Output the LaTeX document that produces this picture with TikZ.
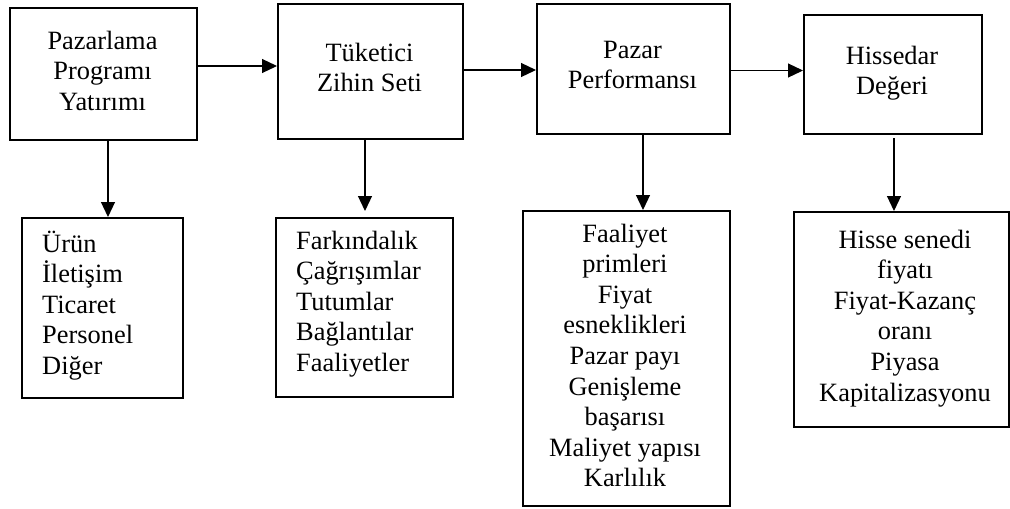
\documentclass[tikz,border=0pt]{standalone}
\usepackage{fontspec}
\setmainfont{Liberation Serif}
\usetikzlibrary{arrows.meta}
\begin{document}
\begin{tikzpicture}[x=1pt,y=-1pt,
  box/.style={draw=black, line width=2.4pt, inner sep=0pt, anchor=north west},
  txt/.style={inner sep=0pt, font=\fontsize{26.4}{30.6}\selectfont, execute at begin node=\strut},
  ctxt/.style={txt, align=center, anchor=north},
  ltxt/.style={txt, align=left, anchor=north west},
  arr/.style={line width=1.2pt, -{Triangle[length=15pt,width=14pt]}}]
\useasboundingbox (0,0) rectangle (1010,509);

% top boxes
\node[box, minimum width=187pt, minimum height=132pt] (A) at (9,7) {};
\node[box, minimum width=185pt, minimum height=135pt] (B) at (277,3) {};
\node[box, minimum width=193pt, minimum height=130pt] (C) at (536,3) {};
\node[box, minimum width=178pt, minimum height=119pt] (D) at (803,14) {};

% bottom boxes
\node[box, minimum width=161pt, minimum height=180pt] (E) at (21,217) {};
\node[box, minimum width=177pt, minimum height=179pt] (F) at (275,217) {};
\node[box, minimum width=207pt, minimum height=295pt] (G) at (522,210) {};
\node[box, minimum width=215pt, minimum height=215pt] (H) at (793,211) {};

% texts
\node[ctxt] (tA) at (102.5,30.58) {Pazarlama\\Programı\\Yatırımı};
\node[ctxt] (tB) at (369.5,42.58) {Tüketici\\Zihin Seti};
\node[ctxt] (tC) at (632.5,40.58) {Pazar\\Performansı};
\node[ctxt] (tD) at (892,45.58) {Hissedar\\Değeri};
\node[ltxt] (tE) at (42,230.58) {Ürün\\İletişim\\Ticaret\\Personel\\Diğer};
\node[ltxt] (tF) at (296,230.58) {Farkındalık\\Çağrışımlar\\Tutumlar\\Bağlantılar\\Faaliyetler};
\node[ctxt] (tG) at (625,223.58) {Faaliyet\\primleri\\Fiyat\\esneklikleri\\Pazar payı\\Genişleme\\başarısı\\Maliyet yapısı\\Karlılık};
\node[ctxt] (tH) at (905,229.58) {Hisse senedi\\fiyatı\\Fiyat-Kazanç\\oranı\\Piyasa\\Kapitalizasyonu};

% helper coordinates
\coordinate (hAB) at (0,66);
\coordinate (hBC) at (0,70);
\coordinate (hCD) at (0,70.5);
\coordinate (vA) at (108,0);
\coordinate (vB) at (365,0);
\coordinate (vC) at (643,0);
\coordinate (vD) at (894,0);

% horizontal arrows
\draw[arr] (A.east |- hAB) -- (B.west |- hAB);
\draw[arr] (B.east |- hBC) -- (C.west |- hBC);
\draw[arr] (C.east |- hCD) -- (D.west |- hCD);

% vertical arrows
\draw[arr] (A.south -| vA) -- (E.north -| vA);
\draw[arr, shorten >=6pt] (B.south -| vB) -- (F.north -| vB);
\draw[arr] (C.south -| vC) -- (G.north -| vC);
\draw[arr, shorten <=3pt] (D.south -| vD) -- (H.north -| vD);
\end{tikzpicture}
\end{document}
